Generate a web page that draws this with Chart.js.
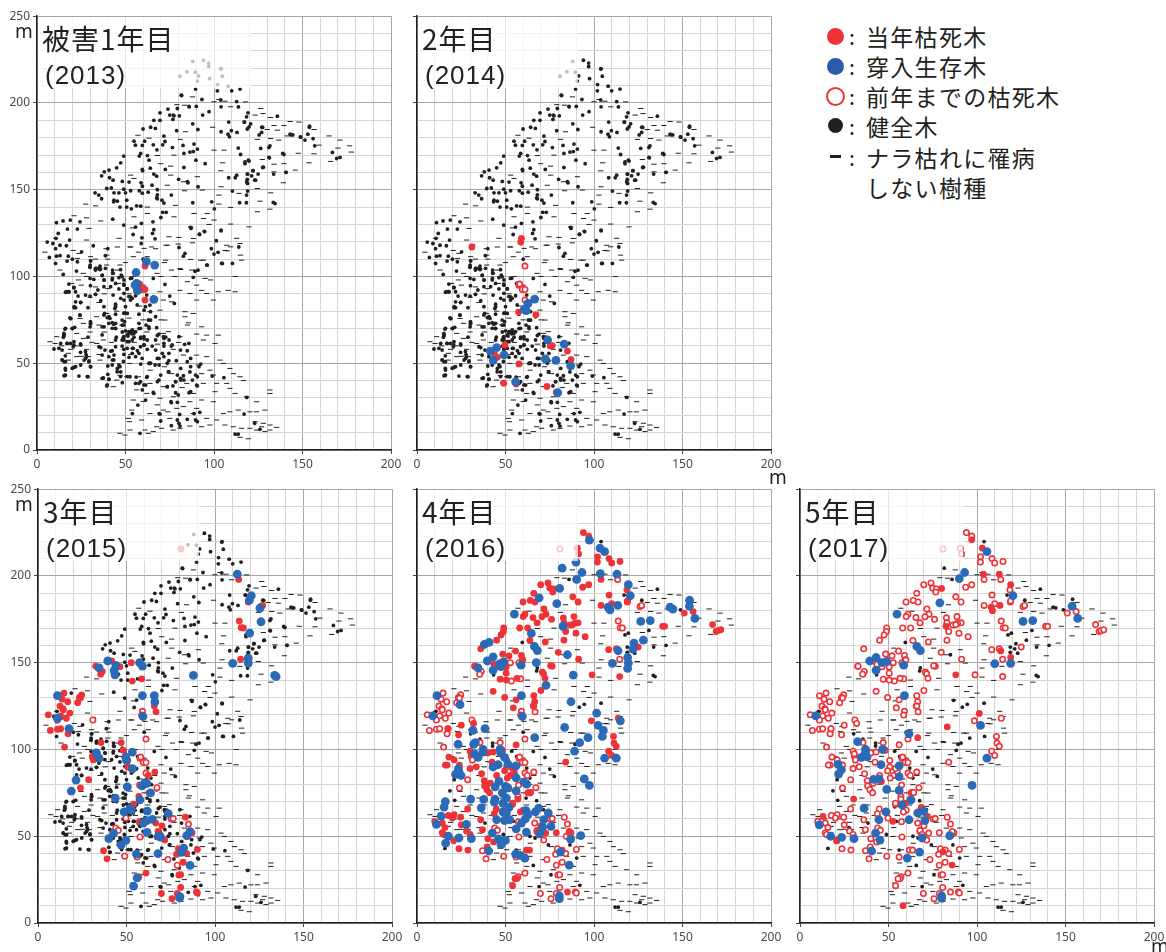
<!DOCTYPE html>
<html lang="ja">
<head>
<meta charset="utf-8">
<title>ナラ枯れ被害の推移</title>
<script src="https://cdn.jsdelivr.net/npm/chart.js@4"></script>
<style>
  html, body { margin: 0; padding: 0; background: #fff; }
  body { position: relative; width: 1166px; height: 952px; overflow: hidden; color: #231f20; }
  canvas { position: absolute; }
  .panelTitle { position: absolute; background: rgba(255,255,255,0.72); height: 71px; }
  .panelTitle .big { position: absolute; left: 4px; top: 2px; font: 28px "Noto Sans CJK JP"; letter-spacing: 1px; white-space: nowrap; line-height: 38px; }
  .panelTitle .year { position: absolute; left: 7px; top: 43px; font: 26px "Liberation Sans"; letter-spacing: 1px; white-space: nowrap; line-height: 30px; }
  .unit { position: absolute; font: 19px "Noto Sans"; line-height: 20px; }
  .legendRow { position: absolute; left: 866px; font: 23px "Noto Sans CJK JP"; letter-spacing: 1.3px; line-height: 30px; white-space: nowrap; }
  .legendColon { position: absolute; left: 849px; font: 21px "Noto Sans CJK JP"; line-height: 30px; }
  .legendMark { position: absolute; box-sizing: border-box; border-radius: 50%; }
</style>
</head>
<body>
<script>
// パネルと凡例
const years = [2013, 2014, 2015, 2016, 2017];
const panelNames = ['被害1年目', '2年目', '3年目', '4年目', '5年目'];
const legendLabels = ['当年枯死木', '穿入生存木', '前年までの枯死木', '健全木', 'ナラ枯れに罹病', 'しない樹種'];
const xTicks = [0, 50, 100, 150, 200];
const yTicks = [0, 50, 100, 150, 200, 250];

// ナラ枯れに罹病しない樹種 (全パネル共通)
const otherTrees = [[87.8,203.5],[79,199],[83.4,198.7],[100,200.7],[102.8,202],[106.2,201],[117.9,200.6],[109.4,197.8],[126.4,196.8],[123.2,193],[127.7,193.9],[132,191.6],[143,189.3],[148,189],[133.9,187],[139.5,187],[156.5,184.7],[130.1,184.7],[135.8,184.3],[83.9,183.4],[99.2,186],[57,181.4],[63.3,179.7],[81,179],[141.4,181],[165,181],[171.2,178.6],[132,179.5],[136.7,178.6],[124.5,179],[159.3,175.7],[176.6,175.3],[170,174],[177.6,171.7],[147.6,171],[156.5,170.7],[68,169.7],[77.4,169.9],[100,172.8],[105.6,172.8],[127.3,167.4],[133.9,164.7],[139.5,165],[153.7,165.5],[165.9,166.3],[104.9,165.5],[69.9,165],[75.5,163.6],[52.9,158.4],[145.9,161.3],[133.9,160.3],[103.8,160.9],[54.8,156.5],[75.5,158.4],[90.6,157.5],[82.7,154.6],[139.2,154],[73.6,152.6],[104,151.7],[124.5,150.7],[132,148.2],[114.1,147.9],[102.8,146.9],[93.4,149.8],[83.4,149.4],[27.5,141.7],[33.1,140.7],[62.4,140],[78.3,141],[126,143.4],[124.5,137.3],[131.6,138.8],[109.4,139.8],[102.8,141.7],[96.2,136.3],[20.9,135],[28,133.8],[36,132],[54.8,134.4],[88.7,136.3],[77.4,134.4],[94.1,133.4],[100,132.5],[109.4,130.2],[53.9,128],[29.4,127.7],[62.4,136.3],[86.8,128.6],[119.8,128.6],[97.2,130],[74.6,122.9],[80.2,122.5],[112.8,122],[46.3,122],[10.5,122],[28,121],[87.8,119.4],[45.4,117],[60.5,116.2],[73.6,118],[67,116],[52.9,117],[107.5,114.8],[86.8,109.8],[23.7,113.3],[22.8,110.4],[30.3,111.4],[109.4,117.1],[115,112.3],[92.5,109.4],[81.2,104],[72.7,109.4],[62.3,111.4],[45.4,103.7],
  [4.5,114],[20.5,115],[39,116],[52.5,117],[57.3,114],[64.8,117],[72.9,118],[79.8,118.7],[88.3,121.9],[94,109.4],[106.2,115],[107.2,118],[114.7,119],[115.6,109.4],[13,103.7],[23.4,98],[19.6,96],[26.2,101.8],[39.4,112.3],[39.4,106.6],[46.9,106.6],[54.4,111.4],[67.8,101.8],[76,103.7],[80.8,104.6],[87.4,103.7],[95,98.9],[90.2,95],[111.9,91.2],[102.4,91.2],[95.9,90.2],[86.4,90.2],[76,85.4],[80.8,92],[69.5,91.2],[71.4,86.4],[90.2,86.4],[63.8,79.7],[69.5,80.6],[83.6,79.7],[88.3,78.7],[72.3,74.9],[85.5,73.3],[93,71],[83.6,76.8],[99.6,86.4],[26.2,73],[33.7,76.8],[39.4,78.7],[24.3,75.8],[22.4,67.2],[11.1,65.3],[7.3,62.4],[10.2,61.4],[26.2,64.3],[33.7,61.4],[37.5,63.4],[17.7,55.7],[22.4,53.8],[29,53.8],[35.6,51.8],[17.7,51.8],[71.4,67.2],[74.2,68.2],[80.8,65.3],[90.2,66.8],[94,63.4],[100.6,61.4],[102.4,66.2],[95.9,66.2],[82.7,54.7],[90.2,54.7],[95.9,53.8],[103.4,51.8],[105.3,49.9],[109,47],[111,44],[114.7,42.2],[116.6,40],[91.1,49],[93,44],[97.7,46],[101.5,38.4],[107.2,38.4],[109,35.5],[100.6,33.6],[111.9,32.6],[118.5,30.7],[124.1,27.8],[131.6,34.6],[131.6,32.6],[128.8,23],[124,22],[120.3,22],[113.7,23],[109,22],[105.3,21],[99.6,27.8],[93,28.8],[86.4,27.8],[82.7,25],[90.2,24],[88.3,21],[95.9,18.2],[101.5,17.3],[106.2,14.4],[110.9,13.4],[115.6,12.5],[120.3,12.5],[123.2,16.3],[127.9,15.4],[131.6,14.4],[135.4,13],[124.1,11.5],[131.6,11.5],[126.9,13.4],[128.8,10.6],[112.8,8.6],[114.7,7.3],[119.4,6.5],[46.9,9.6],[49.7,8.6],[62.9,9.6],[65.7,10.6],[70.4,12.5],[77,11.5],[86.4,13.8],[80.8,12.5],[93,13.4],[97.7,14.4],[53.5,23],[51.6,18.2],[52.2,16.3],[59.1,17.3],[63.8,21],[71.4,23],[75,18.2],[67.6,13.4],[61,11.5],[52.5,11.5],[54.4,28.8],[62,32.6],[69.5,29.8],[77,30.7],[50.7,42.2],[52.5,49.9],[57.3,42.2],[56.3,34.6],[43.1,36.5],[45,40.3],[71.4,36.5],[63.8,38.4],[84.6,38.4],[88.3,32.6],[94,38.4],[99.6,43.2],
  [30,88],[35,85],[25,95],[40,93],[45,80],[35,72],[30,68],[22,60],[28,58],[35,55],[42,62],[55,62],[60,75],[70,75],[80,62],[85,72],[60,95],[55,100],[40,110],[33,110],[50,108],[70,100],[72,108],[78,100],[85,97],[98,98],[93,92],[108,92],[112,100],[14,60],[19,58],[25,54],[31,62],[38,68],[48,72],[52,76],[58,83],[66,85],[38,90],[28,100],[33,94],[46,96],[52,90],[62,68],[68,61],[77,58],[72,48],[64,46],[53,55],[47,43],[76,44],[82,36],[60,28],[68,26],[74,22],[79,24]];

// 健全木: 全パネルに残る木
const healthyAll = [[104,219.8],[81.5,204.5],[85.9,198],[77,193],[135.8,192.4],[117,189],[127,186],[143,182],[154,186.6],[148.8,180.5],[144.5,181.6],[131,168.6],[127.9,163],[119.4,167],[117.5,166],[140.7,160],[133.7,159],[122,161],[118.8,159],[121.3,158],[118.8,156],[123,155.5],[59.5,161.7],[85,154.6],[68,147],[67.6,145.3],[43.3,143],[133.5,142.7],[134.5,142],[86.8,128.3],[91.7,124.4],[94.5,126],[104,126.7],[10.7,122],[30.3,109],[35.6,106],[42.7,103.7],[42.7,102],[53.5,99],[60,110],[91,103.7],[89.3,103],[104.3,107.5],[95.9,106.6],[88.3,99.5],[65.7,98.9],[72.3,95.4],[56.3,96],[62,89.3],[75,88.7],[77.6,84.5],[63.8,83.5],[21,82.6],[18.6,76.2],[21.3,70.7],[41.2,75.8],[61.6,72],[67.6,70.5],[53.5,67],[71.4,65.3],[27.7,55],[38.4,57.6],[54.4,58.6],[63.8,50],[74.2,45],[15.8,43],[48.8,51],[66.7,49],[90.2,37.4],[86.4,45],[65.7,33.2],[75.7,27.8],[69,21],[92,21.7],[126,11.9],[111.9,9.2],[113.7,9.2],[56,42]];

// 健全木: 3年目まで (4年目以降に枯死・穿入)
const healthyEarly = [[88,224],[94,224.6],[97,223],[97,221],[103.8,219.5],[104.7,215.4],[84.7,218],[89.5,217.7],[80.8,215.4],[91.3,215.6],[90.6,212.6],[97.5,214],[102,210.6],[108,209.7],[114.7,208],[89.6,208],[101.9,207],[110,207],[81.7,204.3],[93.2,202],[103.8,201.7],[112.8,200.8],[86,197.8],[90,198],[104,197.8],[113.8,197.7],[79.3,196.8],[74,196.5],[69.5,194.3],[97.2,195],[93.6,193],[119.2,194.3],[75,193],[77.4,192.6],[80.4,192.6],[118.4,192],[76.8,190.5],[69.5,190],[66,190],[117.3,189],[120.7,188],[108.3,189],[88,188],[119.8,186.2],[153.9,186],[64.2,186],[66.9,185.3],[59.9,185],[118.8,185],[127.5,185.9],[90.9,184.7],[78.9,184],[104,183.4],[109.8,184],[113,183],[126.9,183],[125.5,181.6],[107.9,182],[108.7,180.5],[153,182],[143.7,181.6],[149,180.3],[151.4,178.6],[156,179.4],[71.7,180.9],[54.8,178],[60.8,178],[55.6,175.7],[65.7,175.9],[71,175.9],[72.3,177.8],[82.5,175.5],[88.7,176.3],[76.5,174.3],[156.9,175.3],[131,174.3],[131.6,175.3],[126.4,173.8],[113.7,174],[59.5,175.5],[67.8,173],[58.6,170.9],[83,170.9],[86.4,171.7],[90.6,173.4],[88.3,172],[62.4,169.7],[57.8,169.4],[138.8,170.9],[139.5,170.3],[115,170.3],[166.9,171.5],[49,169.4],[47.3,165.5],[63.3,167],[89.8,167],[95,165],[131.3,168.4],[169.3,168],[171.2,168.6],[119.8,166.5],[117.5,165],[45,162.6],[59.7,161],[64,162.4],[40.7,161.3],[38,160.3],[36.5,158],[122,161],[127.5,162.8],[83,162.8],[72.5,161.7],[66,159],[67.6,157.8],[80,156],[108.3,156.9],[112.8,158.4],[119,159],[124.9,159],[140.7,160],[112,156.9],[118.5,154.6],[123.5,155.5],[41,156.9],[43,155.5],[48.2,154.8],[52,154.4],[58.8,154],[85.3,154],[118.9,153.6],[59.5,152],[65,152.6],[39.4,150.7],[42,151],[49,150.3],[52.9,149.4],[57.8,149.4],[62.8,148.6],[68,150],[91,151.7],[110.4,149.2],[119,149.2],[32.8,148.2],[34.9,146.9],[43.5,148.2],[46.3,148.2],[50,148.2],[59.5,148],[75.9,146.9],[118.4,146.9],[36.5,144.8],[43.5,144],[45.4,143.4],[50.7,144],[68,144.8],[70.6,144],[88,142.5],[98.7,143],[114.5,142.5],[118.3,142.5],[56.3,140.7],[58.6,140.5],[46.9,140],[50.7,140],[53.3,139],[71.7,142.3],[71,137],[100.2,139],[73,137],[70,134],[42.8,133],[11,131],[14.7,132],[24.3,131.5],[18.8,132.5],[65.5,131.5],[22.8,127.3],[17.2,127.3],[12,124.8],[49,129.6],[59,130.6],[55.7,128.5],[87,127.7],[104,126.3],[94.7,125.8],[91.9,124.2],[54.3,124.2],[66,127],[65.3,124.8],[66.7,121.7],[5.8,119.8],[9,119],[18.4,121],[10.5,116],[13,118],[16.6,117.7],[59.3,122.3],[101.3,120.6],[31.8,117.7],[80.2,116.7],[114,117],[98.5,116],[11,111.7],[7,111],[13,112],[17.7,111.7],[25.2,114.2],[40,116],[38.6,112],[58.9,119],[100,112.9],[102.3,113.9],[83.6,113.3],[82.7,111.7],[104.7,107.5],[96.2,106.6],[110.4,107.5],[20,110],[30,105.6],[33,104.6],[35,104.6],
  [10.5,107.5],[17,108.9],[22.8,108.5],[30,106.6],[33.5,104.6],[35.6,104],[30.3,109],[43,101.8],[47.6,100.8],[36.9,100.8],[37.9,97.9],[30,98.9],[42.6,98.9],[44.4,96],[49,95.6],[51,93],[18,95.6],[20.9,93.7],[16.8,91.2],[18,91.2],[23.2,88.7],[30,88.7],[33,89.7],[36,86],[43,89.3],[47.3,87.4],[52.9,88.3],[21.8,85.4],[24.7,85],[44.4,84],[21,82],[28.8,82],[38.2,78.7],[44,81.6],[44.4,78.3],[49.7,79],[51,78.7],[57.6,78.3],[60.5,80.6],[24.3,77.6],[40.7,76.8],[44.4,73],[49.5,74],[57.6,73],[62.9,74.9],[64.2,74.9],[19,75.7],[30.3,73],[30,71],[37.9,71],[44.4,70],[53.9,69],[57.6,70],[63.3,70],[15.8,69.7],[20,70],[15.3,66],[14.9,65],[28.8,65],[44.8,65],[48.2,68],[50,68.7],[52,67.6],[48.8,65],[51.4,65.7],[54.8,65],[58.6,65],[68,66],[72.7,65],[13.4,61.4],[17,61.4],[20.9,62.4],[19,61.4],[24.7,60.5],[36,59],[49,63.4],[52,62.4],[60.5,64],[62.3,63.4],[67,63.4],[74.6,63.4],[12.4,58.6],[9.6,58.2],[20.5,59.5],[44.4,59.5],[49,58],[53.9,58.6],[60.5,60.5],[71.7,59.9],[75.9,59.9],[83.4,60.9],[41.6,57],[56.7,57.2],[62.3,58],[70.8,55.7],[84.9,57.2],[16,54.3],[28,53.8],[43.5,54.7],[52,53.4],[55.7,53.8],[68,52.8],[71.7,53.8],[86.8,52.8],[14.3,51.8],[15.3,50.9],[26.6,51.8],[29.4,51.3],[42.6,51.8],[64.2,50],[69,49],[73.6,50],[78.7,51.5],[92.5,49.5],[16,47],[20.9,47.6],[24.7,49],[30.3,48],[40,48.4],[45.4,47],[46.9,48],[58.6,49.5],[81.2,47],[86.8,48],[91.5,48],[15.3,42.8],[23.7,42.6],[28.8,42.2],[37.5,41.5],[40,43.6],[47.3,45],[52.5,42.2],[62,41.9],[69.9,43.2],[79.3,43.2],[82.7,42.8],[89.6,43.2],[90.6,42.2],[99,42.6],[105.6,41.7],[40.7,40.9],[81.2,40.3],[87.8,40.3],[48.2,38.8],[55.7,38.4],[57.6,38.4],[68,39.4],[78.3,39.4],[61.4,37.4],[39.4,36.9],[73.6,36.5],[76.8,36.9],[90.6,36.9],[59.5,34.6],[78.3,33],[86.8,33.6],[66,32.6],[79.8,31.7],[85.9,33],[75.9,27.3],[79.3,27.5],[57,25.9],[61.4,28.8],[118.5,30.3],[53.9,21],[69.5,20.7],[80.6,20.5],[88.7,21],[117,20.7],[69.9,16.7],[79.3,17.3],[84.9,17.7],[89.6,17.3],[90.6,16.3],[75.9,14],[80.2,15.4],[80.8,13.8],[58.2,9.6],[123,15.4]];

// 健全木: 3年目まで、密な区域の追加分
const healthyDense = [[14.8,101.2],[22.3,103.1],[29.9,105.3],[33,103.7],[35.9,104.3],[38.7,104.7],[47.2,103.9],[36.8,100.5],[37.8,98],[42.5,98],[46.3,99.3],[48.1,99.9],[49.1,98],[52.8,98.9],[32.1,98.3],[30.2,94.7],[34.4,92.2],[37.8,94.1],[41.6,94.1],[46.3,92.8],[49.1,95],[51,92.8],[20.8,93.5],[16.1,90.9],[18,91.2],[21.8,91.2],[27.4,89.3],[33.1,89.7],[49.1,90.3],[51.9,88.4],[53.8,87.4],[55.7,88.9],[52.8,86.4],[24.6,85.1],[21.8,82],[37.8,82.6],[44.4,82.6],[50,82.6],[49.1,78.8],[48.1,74.9],[63.2,74.9],[19,75.9],[24.2,77.8],[37.8,77.8],[39.7,76.3],[40.6,73],[43.4,72.4],[30.2,74],[36.8,71],[42.5,70.1],[48.1,72],[51.9,68.2],[53.8,69],[55.7,68.2],[58.5,70.1],[61.3,82.6],[64.1,79.7],[67,76.8],[16.1,70.1],[19.9,70.1],[15.2,67.2],[56.6,83.6],[49.1,86.4],
  [30.2,72.6],[42.5,73.4],[44.4,70.1],[49.1,72],[63.2,71],[15.2,66.3],[49.1,65.3],[51,66.3],[52.8,68.2],[54.7,67.2],[48.1,63.4],[51,62.4],[53.8,63.4],[58.5,64.3],[60.4,65.3],[36.8,66.3],[44.4,63.4],[68.9,66.8],[71.7,64.3],[80.2,65.3],[17,61.5],[20.8,60.5],[24.6,61.1],[35,59.5],[48.1,59.9],[51,58.6],[58.5,59.5],[60.4,60.5],[65.1,59.9],[71.7,61.5],[76.4,60.5],[85.8,61.5],[14.2,57.6],[24.6,56.3],[27.4,56.7],[36.8,54.7],[42.5,57.2],[49.1,55.1],[53.8,55.7],[57.6,55.7],[67,57.6],[74.5,55.7],[81.1,57.6],[14.2,51.9],[16.1,50.9],[27.4,52.8],[29.3,50.9],[40.6,53.8],[43.4,51.9],[59.4,52.8],[63.2,49.9],[68.9,52.8],[74.5,51.5],[84.9,50.9],[16.1,46.1],[19.9,47.1],[21.8,48],[30.2,48],[42.5,49],[46.3,49],[45.3,45.1],[74.5,45.1],[16.1,43.2],[28.4,42.3],[36.8,41.3],[40.6,40.7],[47.2,42.3],[51,42.3],[58.5,39.4],[62.3,42.3],[68.9,40.3],[78.3,39.4],[83,40.3],[39.7,37.5],[60.4,37.5],[73.6,36.5],[81.1,41.3]];

// 当年枯死木 (翌年以降は「前年までの枯死木」)
const dead2013 = [[61,106],[57.6,95],[58,95.6],[59.5,92.5],[61,92.5],[61,86.4]];
const dead2014 = [[57.4,79.5],[67.2,78],[49.7,60.5],[43.9,54.8],[45.4,53.4],[57.6,49.6],[75.3,60],[76.4,60.2],[85,57],[87,52],[49,38.5],[56,38],[73.4,36.6],[78.7,33.3],[31,117],[59,122],[58.6,119.8]];
const dead2015 = [[14.7,132.5],[11,131],[13.6,129],[16.8,127.5],[22.4,127],[24.7,131.5],[23.4,130],[24,129.6],[12.4,125],[14,123.5],[32.6,148],[36.3,145],[35.4,143.4],[41.6,151],[46.3,147.7],[52.7,150],[57.6,150],[53.3,139.4],[58.6,140.7],[65.7,125],[110.4,149.6],[114.5,152],[113.4,198],[118.8,185],[126,182.4],[126.9,183],[113.7,174],[114.8,170.2],[116,170],[80.8,215.6],[66.7,121.7],[5.8,120],[12.8,119.4],[18,121],[14.3,122.9],[11,117],[16,118],[7,111],[11,111.7],[12.8,112],[17.5,112],[17,109],[15,101.4],[30.7,96],[31.3,94],[35.6,104],[47,104],[48.2,99.5],[50.7,93.7],[50.7,89.9],[66,87],[62.3,85],[28.6,82.6],[24,77.8],[62.7,75],[63.6,75],[57,73],[54,68.5],[83.2,61],[57.3,58.4],[66.5,57.6],[70,56],[67.8,52.8],[69,50.9],[71.6,47.8],[84.4,50],[86,52],[79.3,42.8],[90,42.4],[78.3,39.6],[84,40],[82,35],[37,41.7],[39,37],[57,26.7],[61,28.8],[79.6,27.7],[80.6,27.8],[80.6,20.5],[69.7,17],[78.7,17],[89.5,17.9],[90,17.3],[75.7,14]];
const dead2016 = [[94,225],[97,223],[90.6,216],[91.3,212.7],[102,211],[101.9,208],[108.5,210],[110,207.5],[114.7,208.4],[104,198],[97,195],[93.6,193.5],[74,196],[69.9,195],[75,193],[77,192.5],[76.7,190.7],[66,190],[88,188],[91,185],[64,185.9],[59.9,185],[66.7,185],[118.6,192],[108.5,189],[119,185.6],[104,183],[110,184],[71.7,181],[72.9,178],[61,178],[60,176.6],[65.5,176],[70.6,176.5],[67.8,173],[76,175],[82.7,175.9],[88.7,176.6],[83,173],[91,173],[89,172.7],[86.4,171.7],[88,172],[58,170],[62.5,170],[49,170],[48.8,168],[47.5,166],[84,168],[89.8,167],[95,165],[45,163],[72.5,162],[83,163],[63.8,162.8],[36,158],[55.7,156.7],[48.4,155],[52,154],[59,154.2],[59.5,151.7],[59.8,151.5],[43.5,149],[32.8,148],[50.4,147.5],[50.4,144],[70.8,144.6],[71.5,143.6],[72.3,141],[76.4,148],[75.5,148.3],[47,140.5],[50.4,140],[56.5,141],[70,134],[43,133.5],[49.5,130],[56,128.6],[66,131],[66.5,127.5],[54.4,124],[66,125],[98.9,143],[114.5,142],[91.3,152],[79.8,156],[108.3,157.5],[112.6,158],[125,159],[151,178.6],[156,179.5],[138.8,171],[139.9,171],[167,172],[169,168],[170,168.5],[171.6,169],
  [25,114],[32,115],[17.5,112],[23.5,108.5],[56,102.7],[30,99],[40,98],[43,98.5],[18,95.6],[21,94],[30.7,97.5],[24,91],[17,91],[16,91],[30,89],[33.5,90],[36.5,86],[42.4,92.7],[49.5,87.7],[55,87],[54,89],[45,85],[84,92.7],[52.7,85],[51,83.5],[38,82],[41.4,80.6],[38.2,79],[39.5,76.8],[41,75],[63.6,75],[64.2,75.2],[53.9,69],[57,71.4],[44.8,65.7],[43.7,63],[28.6,65.7],[60,65],[58.4,64],[17.7,62],[21,62.4],[20,60.5],[24.7,61],[10,58.6],[14.3,57.6],[15.8,55],[36,59.5],[25,56.6],[14.3,52],[15,51],[28,53],[30,51],[37,53.8],[67.8,53.4],[69,51],[72.7,51.8],[78.7,52],[86,52.8],[20.7,47.4],[40,48.6],[23.7,42.8],[28.8,42],[39.7,43.8],[43.3,46.7],[61.8,42],[63.6,42],[82,42],[98.5,116.5],[113.7,118],[111,107.5],[111.3,103.7],[112.6,101.8],[108.3,99],[110,96.6],[56.5,25.7],[55.4,25.5],[54,21.5],[85,17.8]];
const dead2017 = [[97,220.8],[103,216],[119,195],[103.6,201],[112.6,201],[80,192.8],[113,183],[108,182],[108.7,180],[82.5,171],[113.4,156.8],[119,153],[88,143],[101.3,120.8],[83.2,113],[66.5,106.8],[30.3,71.4],[59.5,69],[68.5,66.6],[72,61.4],[52.4,58.6],[13,61.4],[20.7,47.6],[80.8,41],[85.9,33.4],[58.2,10],[46,81.6]];
const deadByYear = [dead2013, dead2014, dead2015, dead2016, dead2017];

// 穿入生存木
const bored2013 = [[61.8,108.5],[66.5,106.6],[56,102.3],[55.4,95],[56.3,96],[56.7,91.8],[66,86.8]];
const bored2014 = [[66.5,87],[62.7,84.5],[60.6,81],[61.8,80.3],[73.8,63.4],[83.2,61],[45,59],[41.4,57],[49.2,54.8],[43.1,51.7],[72.5,52.5],[78.5,51.7],[86.8,48.5],[55.7,39.3],[79.5,33]];
const bored2015 = [[112.6,201],[120.5,188.6],[119.4,186],[125.4,181.4],[126,173.6],[119.6,167],[11,131],[34.5,147],[39.4,151],[44,148.4],[43,145.5],[43.5,143],[57.4,150],[59,148],[59,131],[65.7,131],[66,127.4],[110,149.6],[118.8,152.6],[118.8,149.8],[87.8,142.7],[133.7,142.7],[134.5,142],[59.3,119],[17.5,112],[11,118],[53.3,98.5],[33,98],[34.5,95],[49.5,95.6],[50,93.7],[53.3,89],[21.5,82.4],[18.8,76],[50.5,78.5],[58.8,79],[60.3,80.6],[61.5,80.4],[43.7,72],[63.6,75],[57.6,71],[52,66],[52.7,65],[48.6,64],[61.8,64.5],[73.6,63],[61.4,59],[64.6,59.7],[59.5,57.6],[42.7,51.6],[40,48.6],[47,45],[49.7,47.6],[61.6,52.2],[69.3,49.5],[68,50],[85.9,52.6],[84,50.3],[82.3,43.2],[81,40.7],[55.6,39.7],[67.8,40],[85.9,33.2],[56,26],[54,21.3],[80,14.4],[80.2,15.2]];
const bored2016 = [[97.4,220.6],[103.4,216],[106,214],[89.8,208],[82,204.5],[93.2,202],[103.6,201.4],[113,201],[90.2,198],[119.4,195],[80.6,192.8],[120.5,188.6],[69,187.4],[79,184],[108,182],[109,180.5],[113.4,183],[154,186],[153.9,182.6],[143,182],[144.6,180.9],[157,175.5],[126.4,173.8],[131.8,174.3],[55,178],[82.5,171],[64.6,166.9],[127.9,163],[122.6,161.3],[122,157.8],[113.6,156.9],[38,160.5],[40.7,161.7],[66.3,159.4],[68,157],[85,154.6],[43,153.4],[39.7,151],[46.7,149.4],[49,150.5],[47.5,147.8],[58.8,148.6],[67.4,150],[110.4,149.6],[119,153],[119.4,149.8],[119,146.7],[34.5,147],[43,145.7],[88.3,142.9],[72.9,137],[59,131],[87,127.5],[11.3,131],[24.3,125.8],[101.5,121],[59.5,119],[8.9,119.4],
  [114.9,116.5],[102.3,113.9],[105.3,111],[104.7,107.5],[83.4,112.7],[96.6,106.8],[91.9,103.9],[89,99],[66.5,106.8],[38.4,112],[31.6,111],[23.2,103],[33,104],[32,103],[37.3,100],[37.3,98.5],[32.6,97.5],[34.5,95.4],[46.9,100],[47.3,98],[49.5,95.4],[51.4,91.6],[55.9,90.6],[45.8,91.2],[43,89.9],[106,95],[112.6,95],[23.4,88.9],[23.7,87],[21.8,85.6],[24.9,85],[56,83.7],[46.3,81.6],[60.5,81.2],[62,80],[44.2,78.5],[50,78.7],[51.4,77.8],[48.2,75],[56,76.2],[94.5,83],[97.4,79.3],[30.3,71.4],[37.7,71.2],[44,71.4],[43.7,69.7],[50.5,72],[48.6,69],[36.3,66.4],[16,70],[15.3,66.8],[13.6,61.6],[11,56.8],[27.9,56.8],[17.7,50],[23.7,49],[30.7,48.6],[16.2,46],[52,66.6],[48.6,64],[50.5,63.4],[45,59.5],[52.4,59.5],[49.5,59],[61.6,64.7],[62.7,62.4],[61.2,60],[59,57.6],[56,54.3],[61.8,52.4],[68.7,66.2],[66.9,64],[74.2,63.4],[71.6,59.5],[71,55.3],[69.3,51.5],[75.7,55.7],[92.5,50.3],[86.8,48.4],[42.6,51.8],[50,47.6],[46.1,48.4],[47.5,45],[40.5,41.5],[55.7,39.7],[58.4,39],[61,37.4],[81,40.9],[86,33.4],[80.4,15.7],[80.4,14]];
const bored2017 = [[105.6,214],[93,202],[90,198.5],[120.3,188.6],[79,184.5],[54.8,178],[153.7,182.6],[156.9,175.5],[126,173.8],[131.5,174.3],[66,159.4],[68,157],[43,153],[39.4,151],[46.3,150],[49,150.7],[58.6,148.6],[110,149.4],[119,149.6],[43,145.7],[59,131],[8.9,119.4],[102,113.9],[61.6,109],[32.6,104.5],[37,100],[37,98.2],[34.7,95.4],[37.9,95.8],[46.7,100],[45.8,91.2],[56,90.6],[105.6,95],[21.5,91.4],[23.4,88.3],[21.8,85.8],[56,84.3],[41.6,82.8],[44.6,83],[97.2,79.3],[49,77],[56,76.4],[62.7,70.9],[57.6,68],[36.2,66.2],[48.6,64],[66.5,63.4],[69.9,64.3],[44.6,59.5],[61.6,59.5],[70.6,59],[10.9,56.6],[42.7,51.8],[17.3,50],[23.5,49.3],[30.5,48.6],[45.2,47.8],[68.9,49],[84.6,50.3],[40.5,41.5],[60.6,37.4],[67.6,40.9],[80,15.7],[80,14.2]];
const boredByYear = [bored2013, bored2014, bored2015, bored2016, bored2017];

const RED = '#ee3338', BLUE = '#2a6ab6', BLACK = '#231f20';
const panels = [
  { left: 37, top: 16, labelY: true, boxWidth: 213 },
  { left: 417, top: 16, labelY: false, boxWidth: 160 },
  { left: 38, top: 489, labelY: true, boxWidth: 160 },
  { left: 417, top: 489, labelY: false, boxWidth: 160 },
  { left: 800, top: 489, labelY: false, boxWidth: 162 }
];

function isMajor(v) { return v % 50 === 0; }

panels.forEach((p, i) => {
  const canvas = document.createElement('canvas');
  canvas.width = 404;
  canvas.height = 474;
  canvas.style.left = (p.left - 36) + 'px';
  canvas.style.top = (p.top - 10) + 'px';
  document.body.appendChild(canvas);

  const healthy = i < 3 ? healthyAll.concat(healthyEarly, healthyDense) : healthyAll;
  const earlierDead = deadByYear.slice(0, i).flat();

  new Chart(canvas.getContext('2d'), {
    type: 'scatter',
    data: {
      datasets: [
        { label: '穿入生存木', data: boredByYear[i], backgroundColor: BLUE, borderWidth: 0, pointRadius: 4.4 },
        { label: '当年枯死木', data: deadByYear[i], backgroundColor: RED, borderWidth: 0, pointRadius: 3.4 },
        { label: '前年までの枯死木', data: earlierDead, backgroundColor: '#fff', borderColor: RED, borderWidth: 1.6, pointRadius: 2.7 },
        { label: '健全木', data: healthy, backgroundColor: BLACK, borderWidth: 0, pointRadius: 1.9 },
        { label: 'ナラ枯れに罹病しない樹種', data: otherTrees, pointStyle: 'line', borderColor: BLACK, borderWidth: 1, pointRadius: 2.6 }
      ]
    },
    options: {
      responsive: false,
      animation: false,
      layout: { autoPadding: false, padding: { top: 10, right: 14, left: 0, bottom: 0 } },
      plugins: { legend: { display: false }, tooltip: { enabled: false } },
      scales: {
        x: {
          type: 'linear', min: 0, max: 200,
          afterFit: s => { s.height = 30; },
          border: { color: BLACK, width: 1.5 },
          grid: {
            color: c => isMajor(c.tick.value) ? '#a6a6a6' : '#d6d6d6',
            tickColor: c => isMajor(c.tick.value) ? '#444' : 'rgba(0,0,0,0)',
            tickLength: 4
          },
          ticks: {
            stepSize: 10, autoSkip: false, maxRotation: 0, padding: 3, color: '#4a4a4a',
            font: { family: 'Noto Sans', size: 12 },
            callback: v => xTicks.includes(v) ? String(v) : ''
          }
        },
        y: {
          type: 'linear', min: 0, max: 250,
          afterFit: s => { s.width = 36; },
          border: { color: BLACK, width: 1.5 },
          grid: {
            color: c => isMajor(c.tick.value) ? '#a6a6a6' : '#d6d6d6',
            tickColor: c => isMajor(c.tick.value) ? '#444' : 'rgba(0,0,0,0)',
            tickLength: 4
          },
          ticks: {
            stepSize: 10, autoSkip: false, padding: 3, color: '#4a4a4a',
            font: { family: 'Noto Sans', size: 12 },
            callback: v => (p.labelY && yTicks.includes(v)) ? String(v) : ''
          }
        }
      }
    }
  });

  // タイトル枠 (下の点と格子を薄くする白い帯)
  const box = document.createElement('div');
  box.className = 'panelTitle';
  box.style.left = (p.left + 1) + 'px';
  box.style.top = (p.top + 1) + 'px';
  box.style.width = p.boxWidth + 'px';
  box.innerHTML = `<span class="big">${panelNames[i]}</span><span class="year">(${years[i]})</span>`;
  document.body.appendChild(box);
});

// 単位
[[15, 21], [769, 467], [15, 494], [1151, 936]].forEach(([x, y]) => {
  const m = document.createElement('div');
  m.className = 'unit';
  m.textContent = 'm';
  m.style.left = x + 'px';
  m.style.top = y + 'px';
  document.body.appendChild(m);
});

// 凡例
const legendRowTops = [21, 51, 81, 111, 142, 172];
legendLabels.forEach((text, i) => {
  const row = document.createElement('div');
  row.className = 'legendRow';
  row.style.top = legendRowTops[i] + 'px';
  row.textContent = text;
  document.body.appendChild(row);
  if (i < 5) {
    const colon = document.createElement('div');
    colon.className = 'legendColon';
    colon.style.top = legendRowTops[i] + 'px';
    colon.textContent = ':';
    document.body.appendChild(colon);
  }
});
const legendMarks = [
  'left:826.5px;top:28px;width:17px;height:17px;background:' + RED,
  'left:826.5px;top:58px;width:17px;height:17px;background:#2d5aa8',
  'left:825.5px;top:86.5px;width:19px;height:19px;background:#fff;border:2.2px solid ' + RED,
  'left:827.5px;top:118px;width:15px;height:15px;background:' + BLACK,
  'left:830px;top:154.5px;width:11px;height:3px;border-radius:0;background:' + BLACK
];
legendMarks.forEach(css => {
  const mark = document.createElement('div');
  mark.className = 'legendMark';
  mark.style.cssText = css;
  document.body.appendChild(mark);
});
</script>
</body>
</html>
